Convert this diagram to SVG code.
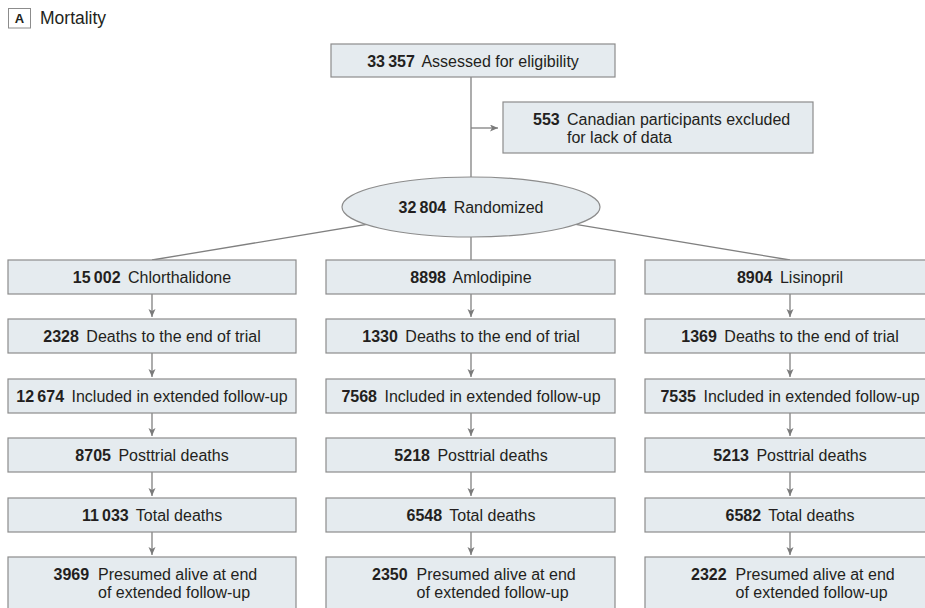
<svg xmlns="http://www.w3.org/2000/svg" width="925" height="608" viewBox="0 0 925 608">
<defs>
<style>
text{font-family:"Liberation Sans",Arial,sans-serif;font-size:16px;fill:#231f20}
.b{font-weight:bold}
.box{fill:#e5ebef;stroke:#8c8c8c;stroke-width:1.2}
.ln{stroke:#808080;stroke-width:1.3;fill:none}
.arr{stroke:#808080;stroke-width:1.3;fill:none;marker-end:url(#ah)}
.c{text-anchor:middle}
</style>
<marker id="ah" markerUnits="userSpaceOnUse" markerWidth="9" markerHeight="8" refX="8" refY="3.5" orient="auto">
<path d="M0,0 L8,3.5 L0,7 L2,3.5 z" fill="#7a7a7a"/>
</marker>
</defs>
<rect width="925" height="608" fill="#ffffff"/>

<g id="header">
<rect x="8.5" y="8.5" width="22" height="19.5" fill="#ffffff" stroke="#8c8c8c" stroke-width="1"/>
<text x="19.5" y="23" class="b c" style="font-size:13px">A</text>
<text x="40" y="23.5" style="font-size:17.5px">Mortality</text>
</g>

<g id="connectors">
<line class="ln" x1="471" y1="77" x2="471" y2="180"/>
<line class="arr" x1="471" y1="128" x2="498" y2="128"/>
<line class="ln" x1="471" y1="207" x2="152" y2="260"/>
<line class="ln" x1="471" y1="207" x2="790" y2="260"/>
<line class="ln" x1="471" y1="207" x2="471" y2="260"/>
<line class="arr" x1="152" y1="294" x2="152" y2="317"/>
<line class="arr" x1="152" y1="353" x2="152" y2="377"/>
<line class="arr" x1="152" y1="413" x2="152" y2="436"/>
<line class="arr" x1="152" y1="472" x2="152" y2="496"/>
<line class="arr" x1="152" y1="532" x2="152" y2="555"/>
<line class="arr" x1="471" y1="294" x2="471" y2="317"/>
<line class="arr" x1="471" y1="353" x2="471" y2="377"/>
<line class="arr" x1="471" y1="413" x2="471" y2="436"/>
<line class="arr" x1="471" y1="472" x2="471" y2="496"/>
<line class="arr" x1="471" y1="532" x2="471" y2="555"/>
<line class="arr" x1="790" y1="294" x2="790" y2="317"/>
<line class="arr" x1="790" y1="353" x2="790" y2="377"/>
<line class="arr" x1="790" y1="413" x2="790" y2="436"/>
<line class="arr" x1="790" y1="472" x2="790" y2="496"/>
<line class="arr" x1="790" y1="532" x2="790" y2="555"/>
</g>

<g id="assessed">
<rect class="box" x="331" y="44" width="284" height="33"/>
<text x="473" y="66.5" class="c"><tspan class="b">33&#8201;357</tspan> <tspan dx="3">Assessed for eligibility</tspan></text>
</g>

<g id="excluded">
<rect class="box" x="503" y="102" width="310" height="51"/>
<text x="533" y="125"><tspan class="b">553</tspan></text>
<text x="567" y="125">Canadian participants excluded</text>
<text x="567" y="143">for lack of data</text>
</g>

<g id="randomized">
<ellipse class="box" cx="471" cy="207" rx="129" ry="30"/>
<text x="471" y="213" class="c"><tspan class="b">32&#8201;804</tspan> <tspan dx="3">Randomized</tspan></text>
</g>

<!-- Left column -->
<g id="chlorthalidone">
<rect class="box" x="8" y="260" width="288" height="34"/>
<text x="152" y="283" class="c"><tspan class="b">15&#8201;002</tspan> <tspan dx="3">Chlorthalidone</tspan></text>
</g>
<g id="chl-deaths-trial">
<rect class="box" x="8" y="319" width="288" height="34"/>
<text x="152" y="342" class="c"><tspan class="b">2328</tspan> <tspan dx="3">Deaths to the end of trial</tspan></text>
</g>
<g id="chl-included">
<rect class="box" x="8" y="379" width="288" height="34"/>
<text x="152" y="402" class="c"><tspan class="b">12&#8201;674</tspan> <tspan dx="3">Included in extended follow-up</tspan></text>
</g>
<g id="chl-posttrial">
<rect class="box" x="8" y="438" width="288" height="34"/>
<text x="152" y="461" class="c"><tspan class="b">8705</tspan> <tspan dx="3">Posttrial deaths</tspan></text>
</g>
<g id="chl-total">
<rect class="box" x="8" y="498" width="288" height="34"/>
<text x="152" y="521" class="c"><tspan class="b">11&#8201;033</tspan> <tspan dx="3">Total deaths</tspan></text>
</g>
<g id="chl-alive">
<rect class="box" x="8" y="557" width="288" height="60"/>
<text x="53.5" y="580" class="b">3969</text>
<text x="98" y="580">Presumed alive at end</text>
<text x="98" y="598">of extended follow-up</text>
</g>

<!-- Middle column -->
<g id="amlodipine">
<rect class="box" x="326" y="260" width="289" height="34"/>
<text x="471" y="283" class="c"><tspan class="b">8898</tspan> <tspan dx="3">Amlodipine</tspan></text>
</g>
<g id="aml-deaths-trial">
<rect class="box" x="326" y="319" width="289" height="34"/>
<text x="471" y="342" class="c"><tspan class="b">1330</tspan> <tspan dx="3">Deaths to the end of trial</tspan></text>
</g>
<g id="aml-included">
<rect class="box" x="326" y="379" width="289" height="34"/>
<text x="471" y="402" class="c"><tspan class="b">7568</tspan> <tspan dx="3">Included in extended follow-up</tspan></text>
</g>
<g id="aml-posttrial">
<rect class="box" x="326" y="438" width="289" height="34"/>
<text x="471" y="461" class="c"><tspan class="b">5218</tspan> <tspan dx="3">Posttrial deaths</tspan></text>
</g>
<g id="aml-total">
<rect class="box" x="326" y="498" width="289" height="34"/>
<text x="471" y="521" class="c"><tspan class="b">6548</tspan> <tspan dx="3">Total deaths</tspan></text>
</g>
<g id="aml-alive">
<rect class="box" x="326" y="557" width="289" height="60"/>
<text x="372" y="580" class="b">2350</text>
<text x="416.5" y="580">Presumed alive at end</text>
<text x="416.5" y="598">of extended follow-up</text>
</g>

<!-- Right column -->
<g id="lisinopril">
<rect class="box" x="645" y="260" width="289" height="34"/>
<text x="790" y="283" class="c"><tspan class="b">8904</tspan> <tspan dx="3">Lisinopril</tspan></text>
</g>
<g id="lis-deaths-trial">
<rect class="box" x="645" y="319" width="289" height="34"/>
<text x="790" y="342" class="c"><tspan class="b">1369</tspan> <tspan dx="3">Deaths to the end of trial</tspan></text>
</g>
<g id="lis-included">
<rect class="box" x="645" y="379" width="289" height="34"/>
<text x="790" y="402" class="c"><tspan class="b">7535</tspan> <tspan dx="3">Included in extended follow-up</tspan></text>
</g>
<g id="lis-posttrial">
<rect class="box" x="645" y="438" width="289" height="34"/>
<text x="790" y="461" class="c"><tspan class="b">5213</tspan> <tspan dx="3">Posttrial deaths</tspan></text>
</g>
<g id="lis-total">
<rect class="box" x="645" y="498" width="289" height="34"/>
<text x="790" y="521" class="c"><tspan class="b">6582</tspan> <tspan dx="3">Total deaths</tspan></text>
</g>
<g id="lis-alive">
<rect class="box" x="645" y="557" width="289" height="60"/>
<text x="691" y="580" class="b">2322</text>
<text x="735.5" y="580">Presumed alive at end</text>
<text x="735.5" y="598">of extended follow-up</text>
</g>
</svg>
